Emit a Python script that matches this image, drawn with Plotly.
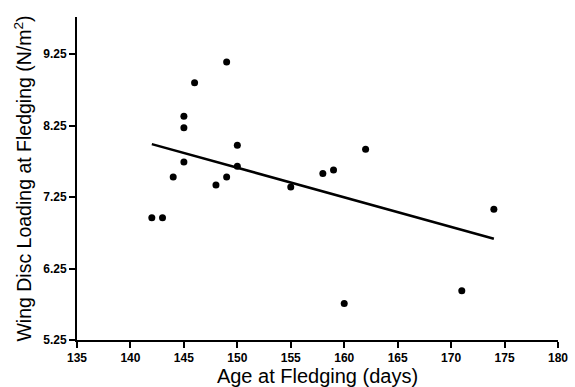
import numpy as np
import plotly.graph_objects as go

# Age at fledging (days) and wing disc loading (N/m^2) for each chick
age_days = [142, 143, 144, 145, 145, 145, 146, 148, 149, 149,
            150, 150, 155, 158, 159, 160, 162, 171, 174]
disc_loading = [6.96, 6.96, 7.53, 7.74, 8.22, 8.38, 8.85, 7.42, 9.14, 7.53,
                7.975, 7.68, 7.39, 7.58, 7.63, 5.76, 7.92, 5.94, 7.08]

x_ticks = [135, 140, 145, 150, 155, 160, 165, 170, 175, 180]
y_ticks = [5.25, 6.25, 7.25, 8.25, 9.25]

# Least-squares regression line over the observed age range
slope, intercept = np.polyfit(age_days, disc_loading, 1)
fit_x = np.array([min(age_days), max(age_days)])
fit_y = slope * fit_x + intercept

fig = go.Figure()
fig.add_trace(go.Scatter(
    x=age_days, y=disc_loading, mode="markers",
    marker=dict(color="black", size=7),
    hoverinfo="x+y", showlegend=False,
))
fig.add_trace(go.Scatter(
    x=fit_x, y=fit_y, mode="lines",
    line=dict(color="black", width=2.5),
    hoverinfo="skip", showlegend=False,
))

axis_common = dict(
    showline=True, linecolor="black", linewidth=2,
    ticks="outside", tickcolor="black", tickwidth=2, ticklen=6,
    showgrid=False, zeroline=False, automargin=False,
    tickfont=dict(family="Liberation Sans, Arial", size=12, color="black"),
)

fig.update_layout(
    width=575, height=387,
    margin=dict(l=77, r=17, t=17, b=47),
    paper_bgcolor="white", plot_bgcolor="white",
    font=dict(family="Liberation Sans, Arial", color="black"),
    xaxis=dict(
        range=[135, 180], tickvals=x_ticks,
        ticktext=[f"<b>{v}</b>" for v in x_ticks],
        title=dict(text="Age at Fledging (days)", font=dict(size=20), standoff=4),
        **axis_common,
    ),
    yaxis=dict(
        range=[5.25, 9.77], tickvals=y_ticks,
        ticktext=[f"<b>{v:.2f}</b>" for v in y_ticks],
        title=dict(text="Wing Disc Loading at Fledging (N/m<sup>2</sup>)",
                   font=dict(size=19.5), standoff=6),
        **axis_common,
    ),
)

fig.write_html("out.html")
